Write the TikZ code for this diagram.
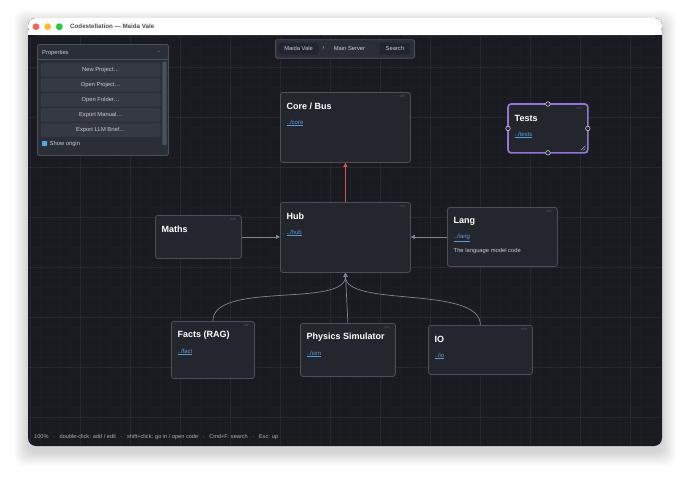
\documentclass[tikz,border=0pt]{standalone}
\usepackage{fontspec}
\setmainfont{Liberation Sans}
\usetikzlibrary{arrows.meta,positioning}

\definecolor{canvas}{HTML}{191B20}
\definecolor{gridminor}{HTML}{1C1E23}
\definecolor{gridmajor}{HTML}{25282E}
\definecolor{boxfill}{HTML}{23262D}
\definecolor{boxline}{HTML}{4A4F59}
\definecolor{linkblue}{HTML}{5B9BD5}
\definecolor{edgegrey}{HTML}{7D8491}
\definecolor{edgered}{HTML}{D9534F}
\definecolor{panelfill}{HTML}{2A2E36}
\definecolor{buttonfill}{HTML}{353943}
\definecolor{softtext}{HTML}{C9CCD2}
\definecolor{dimtext}{HTML}{A9ADB5}
\definecolor{selpurple}{HTML}{9377D6}

\begin{document}
\begin{tikzpicture}[
	x=1pt, y=-1pt,
	box/.style={
		draw=boxline, fill=boxfill, line width=0.8pt, rounded corners=2.5pt,
		anchor=north west, inner sep=0pt
	},
	boxtitle/.style={anchor=west, text=white, font=\bfseries\fontsize{9}{9}\selectfont, inner sep=0pt},
	boxlink/.style={anchor=west, text=linkblue, font=\fontsize{6}{6}\selectfont, inner sep=0pt},
	boxnote/.style={anchor=west, text=softtext, font=\fontsize{5.8}{6}\selectfont, inner sep=0pt},
	codetag/.style={text=boxline!80!white, font=\fontsize{3.5}{4}\selectfont, inner sep=0pt},
	edge/.style={draw=edgegrey, line width=0.7pt, -{Triangle[length=4pt, width=4pt]}},
	button/.style={
		draw=boxline!70!panelfill, fill=buttonfill, rounded corners=1.5pt, line width=0.4pt,
		anchor=north west, inner sep=0pt, text=softtext, font=\fontsize{5.8}{6}\selectfont
	},
	handle/.style={circle, draw=softtext, fill=boxfill, line width=0.6pt, inner sep=0pt, minimum size=4.5pt}
]
	\useasboundingbox (0, 0) rectangle (690, 483);
	\fill[white] (0, 0) rectangle (690, 483);

	% Window shadow
	\foreach \s in {1, ..., 14} {
		\fill[black, opacity=0.012, rounded corners=10pt]
			(28-\s, 18-\s+6) rectangle (662+\s, 446+\s+6);
	}

	% Window
	\fill[canvas, rounded corners=8pt] (28, 18) rectangle (662, 446);
	\fill[white, rounded corners=8pt] (28, 35) -- (28, 18) -- (662, 18) -- (662, 35) -- cycle;
	\fill[white] (28, 30) rectangle (662, 35);
	\foreach \c/\x in {{FF5F57}/36, {FEBC2E}/47.7, {28C840}/59.3} {
		\definecolor{light}{HTML}{\c}
		\fill[light] (\x, 26.7) circle (3.4);
	}
	\node[anchor=west, inner sep=0pt, text=black!70, font=\bfseries\fontsize{6.2}{7}\selectfont]
		(wintitle) at (70, 26.7) {Codestellation — Maida Vale};

	% Grid
	\begin{scope}
		\clip[rounded corners=8pt] (28, 35) -- (662, 35) -- (662, 446) -- (28, 446) -- cycle;
		\foreach \x in {30, 40, ..., 660} {
			\draw[gridminor, line width=0.4pt] (\x, 35) -- (\x, 446);
		}
		\foreach \y in {37, 47, ..., 446} {
			\draw[gridminor, line width=0.4pt] (28, \y) -- (662, \y);
		}
		\foreach \x in {30, 80, ..., 630} {
			\draw[gridmajor, line width=0.7pt] (\x, 35) -- (\x, 446);
		}
		\foreach \y in {67, 117, ..., 417} {
			\draw[gridmajor, line width=0.7pt] (28, \y) -- (662, \y);
		}
	\end{scope}

	% Boxes
	\foreach \name/\x/\y/\w/\h/\title in {
		core/280/92/130/70/{Core / Bus},
		hub/280/202/130/70/{Hub},
		tests/508/104/79/48/{Tests},
		lang/447/207/110/59/{Lang},
		maths/155/215/86/43/{Maths},
		facts/171/321/83/57/{Facts (RAG)},
		sim/300/323/95/53/{Physics Simulator},
		io/428/325/104/49/{IO}
	} {
		\node[box, minimum width=\w pt, minimum height=\h pt] (\name) at (\x, \y) {};
		\node[boxtitle] (\name-title) at (\x+6.5, \y+14.5) {\title};
		\node[codetag, anchor=north east] (\name-tag) at (\x+\w-5, \y+3) {</>};
	}
	\foreach \name/\link in {core/core, hub/hub, tests/tests, lang/lang, facts/fact, sim/sim, io/io} {
		\node[boxlink] (\name-link) at ([xshift=6.5pt, yshift=-31pt]\name.north west)
			{\underline{../\link}};
	}
	\node[boxnote] (lang-note) at ([xshift=6.5pt, yshift=-43.5pt]lang.north west)
		{The language model code};

	% Selected box
	\draw[selpurple, line width=1.6pt, rounded corners=3pt]
		(tests.north west) rectangle (tests.south east);
	\foreach \a in {north, south, east, west} {
		\node[handle] (tests-\a) at (tests.\a) {};
	}
	\draw[softtext, line width=0.4pt]
		([shift={(-7pt, 2.5pt)}]tests.south east) -- ([shift={(-2.5pt, 7pt)}]tests.south east)
		([shift={(-4.5pt, 2.5pt)}]tests.south east) -- ([shift={(-2.5pt, 4.5pt)}]tests.south east);

	% Edges
	\draw[edge, draw=edgered, -{Triangle[length=4pt, width=4pt, fill=edgered]}]
		(hub.north) -- (core.south);
	\draw[edge] (maths.east) -- (maths.east -| hub.west);
	\draw[edge] (lang.west) -- (lang.west -| hub.east);
	\draw[edge] (sim.north) -- (hub.south);
	\draw[edge] (facts.north) .. controls +(0, -40) and +(0, 35) .. (hub.south);
	\draw[edge] (io.north) .. controls +(0, -40) and +(0, 35) .. (hub.south);

	% Properties panel
	\node[box, draw=boxline, fill=panelfill, rounded corners=1.5pt,
		minimum width=131pt, minimum height=111pt] (props) at (37, 44) {};
	\node[anchor=west, inner sep=0pt, text=softtext, font=\fontsize{5.8}{6}\selectfont]
		(props-title) at (42, 52.7) {Properties};
	\node[inner sep=0pt, text=softtext, font=\fontsize{5}{5}\selectfont] (props-min) at (159, 52.7) {-};
	\draw[boxline, line width=0.5pt] (37, 59.5) -- (168, 59.5);
	\foreach \i/\label in {0/New Project…, 1/Open Project…, 2/Open Folder…, 3/Export Manual…, 4/Export LLM Brief…} {
		\node[button, minimum width=119pt, minimum height=12.7pt] (btn\i) at (41, 63.3+15*\i) {};
		\node[text=softtext, font=\fontsize{5.8}{6}\selectfont, inner sep=0pt] at (btn\i.center) {\label};
	}
	\fill[boxline, rounded corners=1pt] (162.3, 61.7) rectangle (166.7, 145);
	\fill[linkblue!85!cyan, rounded corners=0.6pt] (42, 141) rectangle (47, 146);
	\node[anchor=west, inner sep=0pt, text=softtext, font=\fontsize{5.8}{6}\selectfont]
		(origin) at (49.5, 143.5) {Show origin};

	% Toolbar
	\node[box, draw=boxline, fill=panelfill, rounded corners=1.5pt,
		minimum width=139pt, minimum height=18.4pt] (toolbar) at (275, 39.3) {};
	\node[button, draw=none, fill=buttonfill!110, minimum width=39.3pt, minimum height=11.6pt]
		(crumb) at (278.7, 42.7) {};
	\node[text=softtext, font=\fontsize{5.8}{6}\selectfont, inner sep=0pt] at (crumb.center) {Maida Vale};
	\node[text=softtext, font=\fontsize{6}{6}\selectfont, inner sep=0pt] (sep) at (323.7, 48.5) {›};
	\node[text=softtext, font=\fontsize{5.8}{6}\selectfont, inner sep=0pt] (server) at (349.5, 48.5) {Main Server};
	\node[button, draw=none, fill=buttonfill!110, minimum width=30.7pt, minimum height=11.6pt]
		(search) at (379.3, 42.7) {};
	\node[text=softtext, font=\fontsize{5.8}{6}\selectfont, inner sep=0pt] at (search.center) {Search};

	% Status bar
	\node[anchor=west, inner sep=0pt, text=dimtext, font=\fontsize{5.6}{6}\selectfont] (status) at (34, 436.7)
		{100\%\ \ \ ·\ \ \ double-click: add / edit\ \ \ ·\ \ \ shift+click: go in / open code\ \ \ ·\ \ \ Cmd+F: search\ \ \ ·\ \ \ Esc: up};
\end{tikzpicture}
\end{document}
